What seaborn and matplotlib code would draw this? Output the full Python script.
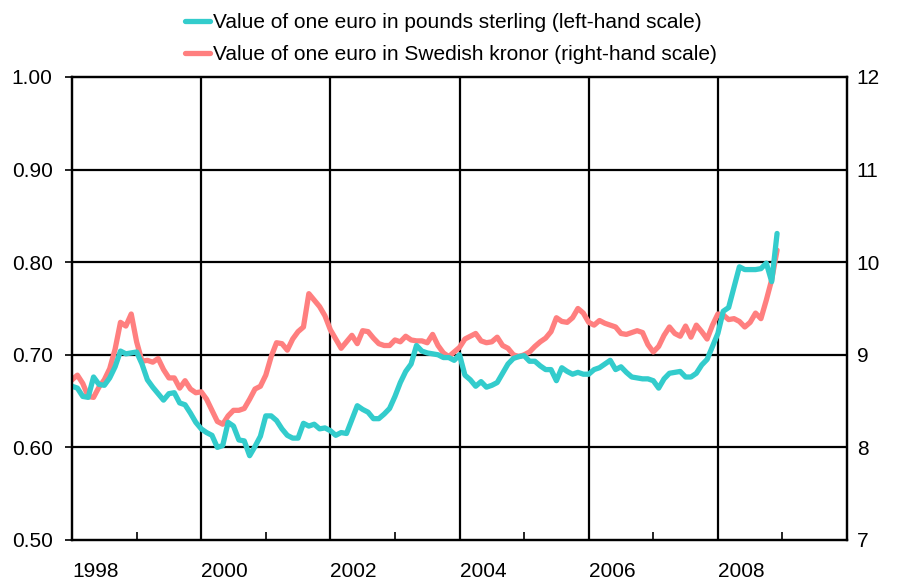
import numpy as np
import pandas as pd
import seaborn as sns
import matplotlib.pyplot as plt

# monthly observations, Jan 1998 .. Dec 2008
start_year = 1998
gbp = [0.666, 0.664, 0.655, 0.654, 0.676, 0.668, 0.667, 0.675, 0.687, 0.704, 0.701, 0.702,
       0.703, 0.690, 0.673, 0.665, 0.658, 0.651, 0.658, 0.659, 0.648, 0.646, 0.637, 0.627,
       0.620, 0.616, 0.613, 0.600, 0.602, 0.627, 0.623, 0.608, 0.607, 0.591, 0.601, 0.612,
       0.634, 0.634, 0.629, 0.620, 0.613, 0.610, 0.610, 0.626, 0.623, 0.625, 0.620, 0.621,
       0.618, 0.613, 0.616, 0.615, 0.630, 0.645, 0.641, 0.638, 0.631, 0.631, 0.636, 0.642,
       0.655, 0.670, 0.682, 0.690, 0.710, 0.704, 0.702, 0.701, 0.700, 0.697, 0.697, 0.694,
       0.700, 0.678, 0.673, 0.666, 0.671, 0.665, 0.667, 0.670, 0.680, 0.690, 0.696, 0.698,
       0.699, 0.693, 0.693, 0.688, 0.684, 0.684, 0.672, 0.686, 0.682, 0.679, 0.681, 0.679,
       0.679, 0.684, 0.686, 0.690, 0.694, 0.684, 0.687, 0.681, 0.676, 0.675, 0.674, 0.674,
       0.672, 0.664, 0.674, 0.680, 0.681, 0.682, 0.676, 0.676, 0.680, 0.689, 0.695, 0.709,
       0.723, 0.747, 0.751, 0.773, 0.795, 0.792, 0.792, 0.792, 0.793, 0.799, 0.779, 0.831]
sek = [8.73, 8.78, 8.69, 8.55, 8.54, 8.65, 8.73, 8.85, 9.06, 9.35, 9.31, 9.44,
       9.14, 8.93, 8.94, 8.92, 8.96, 8.84, 8.75, 8.75, 8.64, 8.72, 8.63, 8.59,
       8.60, 8.52, 8.40, 8.28, 8.25, 8.34, 8.40, 8.40, 8.42, 8.52, 8.63, 8.66,
       8.78, 8.98, 9.13, 9.12, 9.05, 9.17, 9.25, 9.30, 9.66, 9.59, 9.52, 9.42,
       9.27, 9.17, 9.07, 9.14, 9.21, 9.12, 9.26, 9.25, 9.18, 9.12, 9.10, 9.10,
       9.16, 9.14, 9.20, 9.16, 9.15, 9.15, 9.13, 9.22, 9.10, 9.02, 8.98, 9.03,
       9.08, 9.17, 9.20, 9.23, 9.15, 9.13, 9.14, 9.19, 9.10, 9.07, 9.00, 8.98,
       9.00, 9.03, 9.09, 9.14, 9.18, 9.25, 9.40, 9.36, 9.35, 9.40, 9.50, 9.45,
       9.35, 9.32, 9.37, 9.34, 9.32, 9.30, 9.23, 9.22, 9.24, 9.26, 9.24, 9.11,
       9.03, 9.09, 9.21, 9.30, 9.23, 9.20, 9.31, 9.19, 9.32, 9.25, 9.17, 9.32,
       9.44, 9.43, 9.38, 9.39, 9.36, 9.30, 9.35, 9.45, 9.39, 9.59, 9.81, 10.13]

year_ticks = [1998, 2000, 2002, 2004, 2006, 2008]
left_ticks = [0.50, 0.60, 0.70, 0.80, 0.90, 1.00]
right_ticks = [7, 8, 9, 10, 11, 12]

label_gbp = "Value of one euro in pounds sterling (left-hand scale)"
label_sek = "Value of one euro in Swedish kronor (right-hand scale)"
teal = "#33CCCC"
salmon = "#FF7F7F"

df = pd.DataFrame({"t": start_year + np.arange(len(gbp)) / 12, "gbp": gbp, "sek": sek})

sns.set_theme(style="white")
plt.rcParams["font.family"] = ["Liberation Sans", "DejaVu Sans"]
plt.rcParams["text.color"] = "black"
plt.rcParams["xtick.color"] = "black"
plt.rcParams["ytick.color"] = "black"

fig = plt.figure(figsize=(8.97, 5.83), dpi=100)
ax2 = fig.add_axes([0.0803, 0.0738, 0.8640, 0.7942])
ax = ax2.twinx()  # left scale drawn on top so the teal line sits above

sns.lineplot(data=df, x="t", y="sek", ax=ax2, color=salmon, lw=3.8, label=label_sek, legend=False)
sns.lineplot(data=df, x="t", y="gbp", ax=ax, color=teal, lw=3.8, label=label_gbp, legend=False)

ax2.set_xlim(1998, 2010)
ax2.set_ylim(7, 12)
ax.set_ylim(0.5, 1.0)

# left scale on the left, right scale on the right
ax.yaxis.tick_left()
ax.yaxis.set_label_position("left")
ax2.yaxis.tick_right()
ax2.yaxis.set_label_position("right")

ax.set_yticks(left_ticks)
ax.set_yticklabels([f"{v:.2f}" for v in left_ticks])
ax2.set_yticks(right_ticks)
ax2.set_yticklabels([str(v) for v in right_ticks])
ax.set_ylabel("")
ax2.set_ylabel("")
ax2.set_xlabel("")

# grid on the lower axes so the lines cover it
for v in right_ticks[1:-1]:
    ax2.axhline(v, color="black", lw=1.6, zorder=0)
for yr in year_ticks[1:]:
    ax2.axvline(yr, color="black", lw=1.6, zorder=0)

ax2.set_xticks(year_ticks)
ax2.set_xticklabels([str(y) for y in year_ticks], ha="left")
ax2.set_xticks(np.arange(1999, 2010, 2), minor=True)
ax2.tick_params(axis="x", which="both", direction="in", length=6, width=1.2,
                labelsize=15, pad=16, bottom=True)
ax2.tick_params(axis="y", direction="out", length=0, labelsize=15, pad=7, right=True)
ax.tick_params(axis="y", direction="out", length=5, width=1.2,
               labelsize=15, pad=9, left=True)

ax.patch.set_visible(False)
for a in (ax, ax2):
    for s in a.spines.values():
        s.set_color("black")
        s.set_linewidth(1.6)

handles = [ax.get_lines()[0], ax2.get_lines()[0]]
fig.legend(handles, [label_gbp, label_sek], loc="upper center",
           bbox_to_anchor=(0.503, 1.01), frameon=False, fontsize=15,
           handlelength=1.2, handletextpad=0.15, labelspacing=0.65)

fig.savefig("out.png", dpi=100)
